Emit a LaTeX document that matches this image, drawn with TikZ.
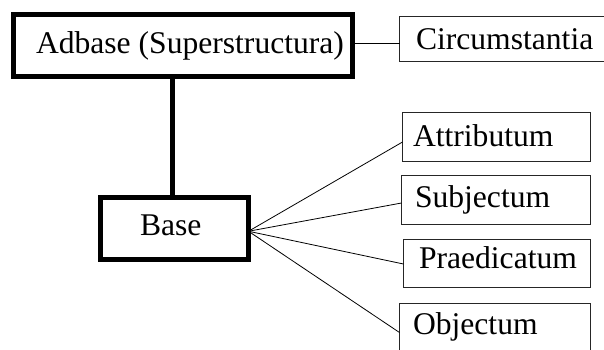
\documentclass[tikz,border=0pt]{standalone}
\usepackage{fontspec}
\setmainfont{Liberation Serif}
\begin{document}
\begin{tikzpicture}[x=1pt,y=-1pt,
  thickbox/.style={draw=black,line width=5pt,inner sep=0pt,outer sep=0pt,anchor=north west},
  thinbox/.style={draw=black!85,line width=1pt,inner sep=0pt,outer sep=0pt,anchor=north west},
  lbl/.style={inner sep=0pt,outer sep=0pt,anchor=base west,font=\fontsize{31.6}{36}\selectfont},
  thickline/.style={line width=5pt,draw=black},
  thinline/.style={line width=0.8pt,draw=black}]
\clip (0,0) rectangle (604,349);
\fill[white] (0,0) rectangle (604,349);
% boxes
\node[thickbox,minimum width=339.5pt,minimum height=62pt] (adb) at (13,14.5) {};
\node[thickbox,minimum width=148pt,minimum height=62.5pt] (base) at (100.5,197) {};
\node[thinbox,minimum width=220pt,minimum height=45pt] (circ) at (399.5,16.5) {};
\node[thinbox,minimum width=188pt,minimum height=49pt] (att) at (402.5,112.5) {};
\node[thinbox,minimum width=189pt,minimum height=49pt] (subj) at (401.5,175.5) {};
\node[thinbox,minimum width=187pt,minimum height=48pt] (praed) at (403.5,239.5) {};
\node[thinbox,minimum width=191pt,minimum height=58pt] (obj) at (399.5,303.5) {};
% labels
\node[lbl] (adbt) at ([shift={(23pt,-38.5pt)}]adb.north west) {Adbase (Superstructura)};
\node[lbl] (baset) at ([shift={(39.5pt,-38pt)}]base.north west) {Base};
\node[lbl] (circt) at ([shift={(16.5pt,-32.5pt)}]circ.north west) {Circumstantia};
\node[lbl] (attt) at ([shift={(10.5pt,-33.5pt)}]att.north west) {Attributum};
\node[lbl] (subjt) at ([shift={(13.5pt,-31.5pt)}]subj.north west) {Subjectum};
\node[lbl] (praedt) at ([shift={(15.5pt,-29pt)}]praed.north west) {Praedicatum};
\node[lbl] (objt) at ([shift={(13.5pt,-30.5pt)}]obj.north west) {Objectum};
% connectors
\draw[thinline] ([yshift=2.5pt]adb.east) -- ([yshift=-4pt]circ.west);
\draw[thickline] ([xshift=-2pt]base.north) -- ([xshift=-2pt]base.north |- adb.south);
\draw[thinline] ([yshift=-3pt]base.east) -- ([yshift=-5pt]att.west);
\draw[thinline] ([yshift=-3pt]base.east) -- ([yshift=-3pt]subj.west);
\draw[thinline] ([yshift=-3pt]base.east) -- ([yshift=-0.5pt]praed.west);
\draw[thinline] ([yshift=-3pt]base.east) -- (obj.west);
\end{tikzpicture}
\end{document}
